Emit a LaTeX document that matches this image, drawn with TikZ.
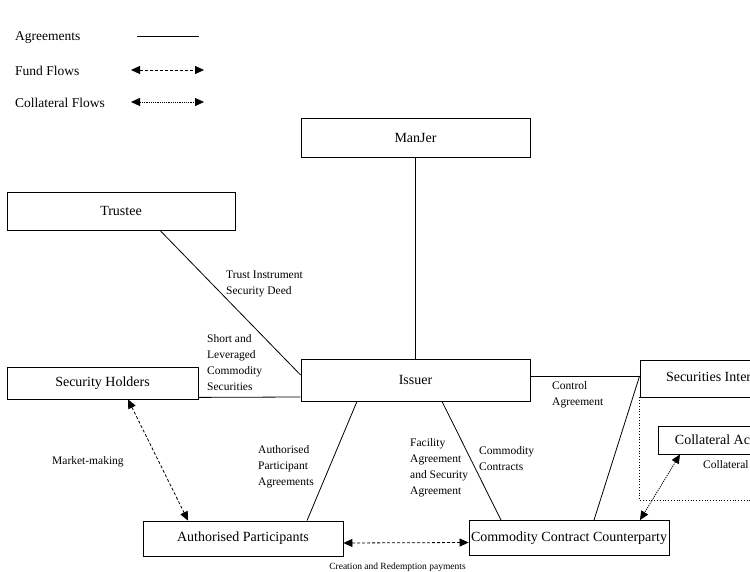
\documentclass[tikz,border=0pt]{standalone}
\usepackage{fontspec}
\setmainfont{Liberation Serif}
\usetikzlibrary{arrows.meta,shapes}

\begin{document}
\begin{tikzpicture}[x=1pt,y=-1pt,
    box/.style={draw, line width=0.8pt, inner sep=0pt, font=\fontsize{14}{16}\selectfont},
    lbl/.style={anchor=west, align=left, inner sep=0pt, font=\fontsize{11.5}{16}\selectfont},
    legend/.style={anchor=west, inner sep=0pt, font=\fontsize{13.5}{16}\selectfont},
    agree/.style={line width=0.8pt},
    fund/.style={line width=0.8pt, dash pattern=on 3pt off 2pt, {Triangle[length=9pt,width=8pt]}-{Triangle[length=9pt,width=8pt]}},
    coll/.style={line width=0.8pt, dash pattern=on 1.2pt off 1pt, {Triangle[length=9pt,width=8pt]}-{Triangle[length=9pt,width=8pt]}}]
        \useasboundingbox (0,0) rectangle (750,572);
        \clip (0,0) rectangle (750,572);
        %legend
        \node[legend] (lagree) at (15,38) {Agreements};
        \node[legend] (lfund) at (15,71) {Fund Flows};
        \node[legend] (lcoll) at (15,103) {Collateral Flows};
        \coordinate (agreeA) at (137,36);  \coordinate (agreeB) at (199,36);
        \coordinate (fundA) at (131,70);   \coordinate (fundB) at (204,70);
        \coordinate (collA) at (131,102);  \coordinate (collB) at (204,102);
        \draw[agree] (agreeA) -- (agreeB);
        \draw[fund] (fundA) -- (fundB);
        \draw[coll] (collA) -- (collB);
        %boxes
        \node[box, minimum width=229pt, minimum height=39pt] (manjer) at (415.5,137.5) {ManJer};
        \node[box, minimum width=228pt, minimum height=38pt] (trustee) at (121,211) {Trustee};
        \node[box, minimum width=191pt, minimum height=32pt] (holders) at (102.5,383) {Security Holders};
        \node[box, minimum width=229pt, minimum height=42pt] (issuer) at (415.5,380) {Issuer};
        \node[box, minimum width=183pt, minimum height=37pt] (secint) at (731.5,378.5) {Securities Intermediary};
        \node[box, minimum width=140pt, minimum height=28pt] (collacc) at (728,440) {Collateral Account};
        \node[box, minimum width=200pt, minimum height=35pt] (ap) at (243,538.5) {Authorised Participants};
        \node[box, minimum width=200pt, minimum height=35pt] (ccc) at (569,538) {Commodity Contract Counterparty};
        \draw[dotted, line width=0.8pt] (secint.south west) -- ++(0,103) -- ++(200,0);
        %agreements
        \draw[agree] (manjer) -- (issuer);
        \draw[agree] ([xshift=39pt]trustee.south) -- ([yshift=5pt]issuer.west);
        \draw[agree] ([yshift=2pt]holders.south east) -- ([yshift=-17pt]issuer.west);
        \draw[agree] ([yshift=4pt]issuer.east) -- ([yshift=2.5pt]secint.west);
        \draw[agree] ([xshift=-58.5pt]issuer.south) -- ([xshift=64pt]ap.north);
        \draw[agree] ([xshift=26.5pt]issuer.south) -- ([xshift=-68pt]ccc.north);
        \draw[agree] ([xshift=25pt]ccc.north) -- ([yshift=2.5pt]secint.west);
        %flows
        \draw[fund] ([xshift=25.5pt]holders.south) -- ([xshift=-55pt]ap.north);
        \draw[fund] ([yshift=-4.5pt]ap.east) -- ([yshift=-4.5pt]ccc.west);
        \draw[coll] ([xshift=-48pt]collacc.south) -- ([xshift=71pt]ccc.north);
        %labels
        \node[lbl] (ltrust) at (226,283.5) {Trust Instrument\\Security Deed};
        \node[lbl] (lsec) at (207,362.5) {Short and\\Leveraged\\Commodity\\Securities};
        \node[lbl] (lcontrol) at (552,395) {Control\\Agreement};
        \node[lbl] (lmarket) at (52,462) {Market-making};
        \node[lbl] (lapa) at (258,466.5) {Authorised\\Participant\\Agreements};
        \node[lbl] (lfacility) at (410,467.5) {Facility\\Agreement\\and Security\\Agreement};
        \node[lbl] (lcontracts) at (479,459) {Commodity\\Contracts};
        \node[lbl] (lcollat) at (703,465) {Collateral};
        \node[inner sep=0pt, font=\fontsize{9.5}{11}\selectfont] (lcreation) at (397.5,567) {Creation and Redemption payments};
    \end{tikzpicture}
\end{document}
